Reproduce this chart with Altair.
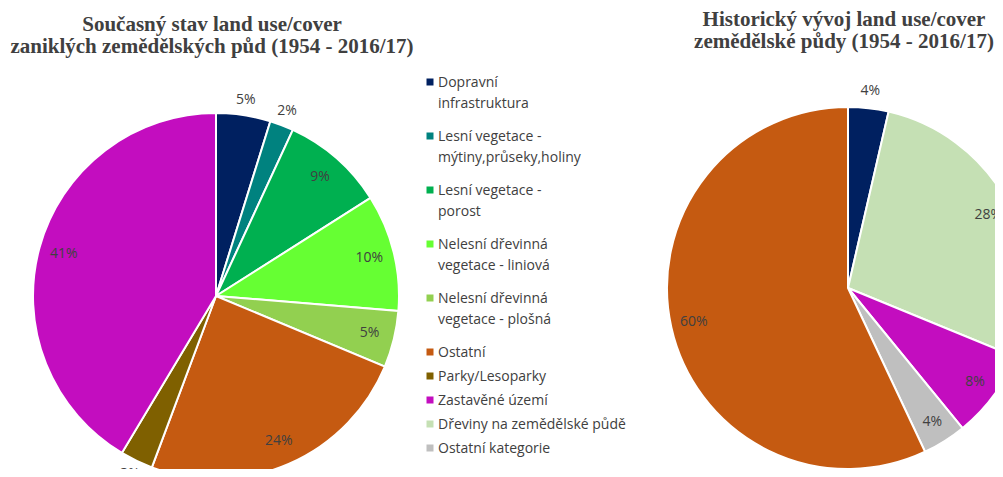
import altair as alt
import pandas as pd

# ---------------- data ----------------
categories = [
    "Dopravní infrastruktura",
    "Lesní vegetace - mýtiny,průseky,holiny",
    "Lesní vegetace - porost",
    "Nelesní dřevinná vegetace - liniová",
    "Nelesní dřevinná vegetace - plošná",
    "Ostatní",
    "Parky/Lesoparky",
    "Zastavěné území",
    "Dřeviny na zemědělské půdě",
    "Ostatní kategorie",
]
legend_text = [
    "Dopravní\ninfrastruktura",
    "Lesní vegetace -\nmýtiny,průseky,holiny",
    "Lesní vegetace -\nporost",
    "Nelesní dřevinná\nvegetace - liniová",
    "Nelesní dřevinná\nvegetace - plošná",
    "Ostatní",
    "Parky/Lesoparky",
    "Zastavěné území",
    "Dřeviny na zemědělské půdě",
    "Ostatní kategorie",
]
colors = ["#002060", "#00827F", "#00B050", "#66FF33", "#92D050",
          "#C55A11", "#7F6000", "#C30DBF", "#C5E0B4", "#BFBFBF"]

left_title = "Současný stav land use/cover\nzaniklých zemědělských půd (1954 - 2016/17)"
left_cats = categories[:8]
left_values = [4.8, 2.1, 9.1, 10.3, 5.0, 24.4, 2.9, 41.4]
left_labels = ["5%", "2%", "9%", "10%", "5%", "24%", "3%", "41%"]

right_title = "Historický vývoj land use/cover\nzemědělské půdy (1954 - 2016/17)"
right_cats = ["Dopravní infrastruktura", "Dřeviny na zemědělské půdě",
              "Zastavěné území", "Ostatní kategorie", "Ostatní"]
right_values = [3.6, 27.6, 7.9, 3.9, 57.0]
right_labels = ["4%", "28%", "8%", "4%", "60%"]

# ---------------- layout ----------------
W, H = 987, 461
LX, LY, LR = 208, 288, 183
RX, RY, RR = 840, 280, 181
R_IN, R_OUT = 158, 198
TXT = "#404040"
SANS = "Open Sans"
SERIF = "Liberation Serif"

color_scale = alt.Scale(domain=categories, range=colors)


def pie_frame(cats, vals, labels):
    df = pd.DataFrame({"cat": cats, "value": vals, "label": labels})
    df["idx"] = range(len(df))
    return df


def pie(df, cx, cy, r):
    arcs = alt.Chart(df).mark_arc(radius=r, stroke="white", strokeWidth=2).encode(
        theta=alt.Theta("value:Q", stack=True),
        order=alt.Order("idx:Q"),
        color=alt.Color("cat:N", scale=color_scale, legend=None),
        x=alt.value(cx),
        y=alt.value(cy),
    )
    # label angle = middle of the slice; small slices near the vertical go outside
    labels = alt.Chart(df).transform_joinaggregate(
        total="sum(value)"
    ).transform_window(
        cum="sum(value)", sort=[alt.SortField("idx")]
    ).transform_calculate(
        midf="(datum.cum - datum.value / 2) / datum.total"
    ).transform_calculate(
        ang="datum.midf * 2 * PI",
        deg="datum.midf * 360",
    ).transform_calculate(
        outside="datum.value / datum.total < 0.06 && min(datum.deg % 180, 180 - datum.deg % 180) < 30"
    ).transform_calculate(
        r=f"datum.outside ? {R_OUT} : {R_IN}"
    ).mark_text(font=SANS, fontSize=14, color=TXT).encode(
        theta=alt.Theta("ang:Q", scale=None, stack=False),
        radius=alt.Radius("r:Q", scale=None),
        text="label:N",
        x=alt.value(cx),
        y=alt.value(cy),
    )
    return arcs, labels


left_arcs, left_text = pie(pie_frame(left_cats, left_values, left_labels), LX, LY, LR)
right_arcs, right_text = pie(pie_frame(right_cats, right_values, right_labels), RX, RY, RR)


def title(txt, x, y):
    return alt.Chart(pd.DataFrame({"t": [txt]})).mark_text(
        font=SERIF, fontSize=21, fontWeight="bold", color=TXT,
        lineBreak="\n", lineHeight=22, align="center", baseline="alphabetic",
    ).encode(text="t:N", x=alt.value(x), y=alt.value(y))


t_left = title(left_title, 204, 23)
t_right = title(right_title, 836, 18)

# legend (built by hand, because of the two-line entries)
leg = pd.DataFrame({"cat": categories, "txt": legend_text})
steps = [54 if "\n" in t else 24 for t in legend_text]
ys = [74]
for s in steps[:-1]:
    ys.append(ys[-1] + s)
leg["ly"] = ys

leg_sym = alt.Chart(leg).mark_square(size=49, opacity=1).encode(
    x=alt.value(422),
    y=alt.Y("ly:Q", scale=None),
    color=alt.Color("cat:N", scale=color_scale, legend=None),
)
leg_txt = alt.Chart(leg).mark_text(
    font=SANS, fontSize=14, color=TXT, align="left", baseline="alphabetic",
    lineBreak="\n", lineHeight=21, dy=5,
).encode(x=alt.value(430), y=alt.Y("ly:Q", scale=None), text="txt:N")

chart = alt.layer(
    left_arcs, left_text, right_arcs, right_text, t_left, t_right, leg_sym, leg_txt
).resolve_scale(theta="independent").properties(
    width=W, height=H, autosize="none", padding=0, background="white"
).configure_view(stroke="transparent")

chart.save("out.html", embed_options={"renderer": "svg", "actions": False})
